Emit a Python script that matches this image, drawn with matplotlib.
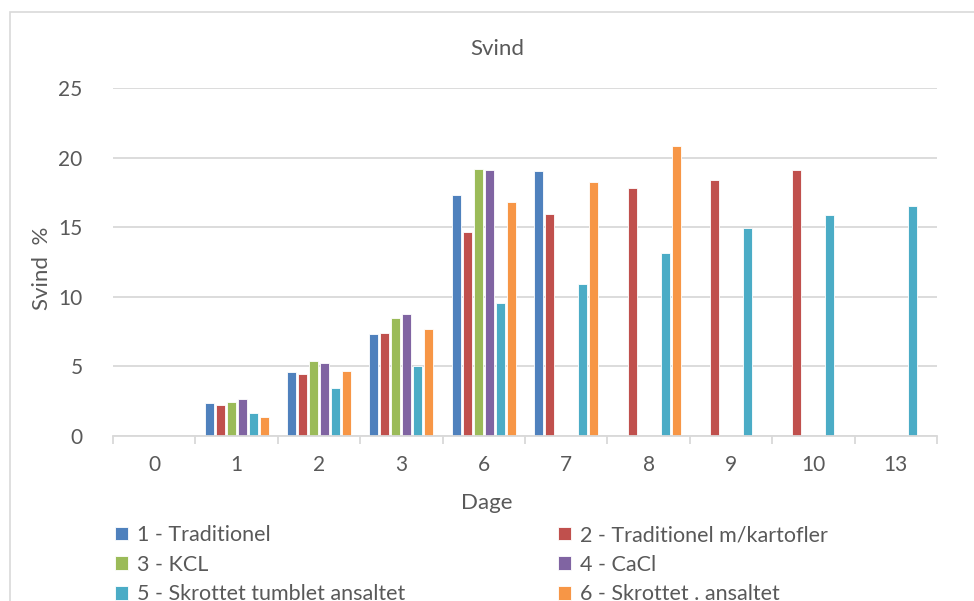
import numpy as np
import matplotlib
matplotlib.use("Agg")
import matplotlib.pyplot as plt
from matplotlib.patches import Rectangle

plt.rcParams['font.family'] = ['Lato', 'DejaVu Sans']

# Dati
dage = ['0', '1', '2', '3', '6', '7', '8', '9', '10', '13']
serie = ['1 - Traditionel', '2 - Traditionel m/kartofler', '3 - KCL',
         '4 - CaCl', '5 - Skrottet tumblet ansaltet', '6 - Skrottet . ansaltet']
traditionel = [np.nan, 2.37, 4.58, 7.34, 17.34, 19.04, np.nan, np.nan, np.nan, np.nan]
kartofler = [np.nan, 2.25, 4.44, 7.39, 14.68, 15.92, 17.84, 18.37, 19.14, np.nan]
kcl = [np.nan, 2.45, 5.37, 8.51, 19.19, np.nan, np.nan, np.nan, np.nan, np.nan]
cacl = [np.nan, 2.68, 5.25, 8.78, 19.14, np.nan, np.nan, np.nan, np.nan, np.nan]
tumblet = [np.nan, 1.65, 3.45, 5.01, 9.57, 10.94, 13.12, 14.94, 15.90, 16.52]
ansaltet = [np.nan, 1.35, 4.70, 7.68, 16.81, 18.22, 20.86, np.nan, np.nan, np.nan]
valori = [traditionel, kartofler, kcl, cacl, tumblet, ansaltet]
colori = ['#4F81BD', '#C0504D', '#9BBB59', '#8064A2', '#4BACC6', '#F79646']

W, H = 974, 601
fig = plt.figure(figsize=(W / 100, H / 100), dpi=100)
ax = fig.add_axes([113 / W, 1 - 436 / H, (937 - 113) / W, (436 - 88) / H])

# cornice del grafico
fig.patches.append(Rectangle((10 / W, -0.05), 1.1, 1 - 12 / H + 0.05,
                             transform=fig.transFigure, fill=False,
                             edgecolor='#D9D9D9', linewidth=1.2))

x = np.arange(len(dage))
slot = 0.1335
barre = []
for i, (nome, vals, col) in enumerate(zip(serie, valori, colori)):
    pos = x + (i - 2.5) * slot
    b = ax.bar(pos, vals, width=0.108, color=col, edgecolor='white',
               linewidth=0.6, label=nome, zorder=3)
    barre.append(b)

ax.set_xlim(-0.5, len(dage) - 0.5)
ax.set_ylim(0, 25)
ax.set_yticks([0, 5, 10, 15, 20, 25])
ax.grid(axis='y', color='#D9D9D9', linewidth=1.3, zorder=0)
for s in ['top', 'right', 'left']:
    ax.spines[s].set_visible(False)
ax.spines['bottom'].set_color('#D9D9D9')
ax.spines['bottom'].set_linewidth(1.3)
ax.spines['bottom'].set_zorder(4)

ax.set_xticks(x)
ax.set_xticklabels(dage)
ax.set_xticks(np.arange(-0.5, len(dage)), minor=True)
ax.tick_params(axis='x', which='major', length=0, pad=14, labelsize=15, labelcolor='#595959')
ax.tick_params(axis='x', which='minor', length=6, color='#D9D9D9', width=1.3)
ax.tick_params(axis='y', length=0, pad=22, labelsize=15, labelcolor='#595959')

# titolo ed etichette assi (posizionati come nel riferimento)
fig.text(497 / W, 1 - 49 / H, 'Svind', fontsize=16, color='#595959', ha='center', va='center')
fig.text(487 / W, 1 - 503 / H, 'Dage', fontsize=16, color='#595959', ha='center', va='center')
fig.text(42 / W, 1 - 268 / H, 'Svind  %', fontsize=16, color='#595959', ha='center',
         va='center', rotation=90)

# legenda su due colonne, riempita per righe
stile = dict(frameon=False, fontsize=15.5, labelcolor='#595959', handlelength=0.6,
             handleheight=0.6, handletextpad=0.4, labelspacing=0.45,
             borderaxespad=0, borderpad=0, loc='upper left')
leg1 = fig.legend([barre[0], barre[2], barre[4]], [serie[0], serie[2], serie[4]],
                  bbox_to_anchor=(115 / W, 1 - 525 / H), **stile)
leg2 = fig.legend([barre[1], barre[3], barre[5]], [serie[1], serie[3], serie[5]],
                  bbox_to_anchor=(558 / W, 1 - 525 / H), **stile)

plt.savefig('out.png', dpi=100)
